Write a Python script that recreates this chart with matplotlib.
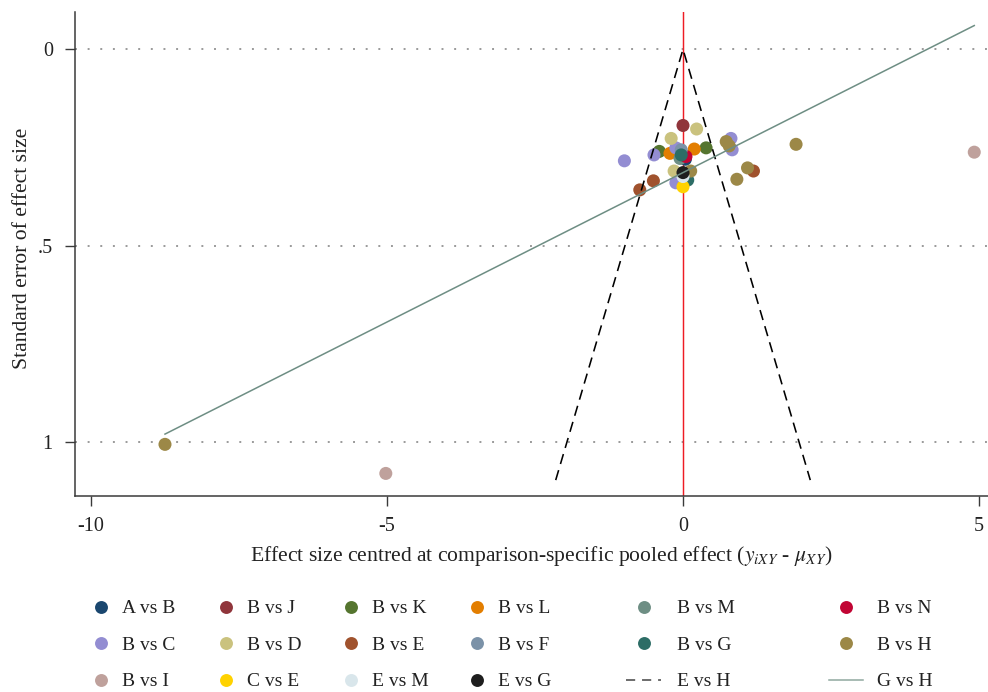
import matplotlib
matplotlib.use("Agg")
import matplotlib.pyplot as plt
from matplotlib.lines import Line2D
import numpy as np

plt.rcParams['font.family'] = ['Liberation Serif', 'DejaVu Serif']
plt.rcParams['mathtext.fontset'] = 'stix'

# ---- data ----
comparisons = ["A vs B", "B vs J", "B vs K", "B vs L", "B vs M", "B vs N",
               "B vs C", "B vs D", "B vs E", "B vs F", "B vs G", "B vs H",
               "B vs I", "C vs E", "E vs M", "E vs G"]
colors = ["#1a476f", "#90353b", "#55752f", "#e37e00", "#6e8e84", "#c10534",
          "#938dd2", "#cac27e", "#a0522d", "#7b92a8", "#2d6d66", "#9c8847",
          "#bfa19c", "#ffd200", "#d9e6eb", "#1e1e1e"]
effect = {
    "A vs B": [0.04],
    "B vs J": [0.00],
    "B vs K": [-0.40, 0.39],
    "B vs L": [-0.22, 0.19],
    "B vs M": [-0.05],
    "B vs N": [0.05],
    "B vs C": [-0.99, -0.49, -0.12, -0.12, 0.81, 0.83],
    "B vs D": [0.23, -0.20, -0.15],
    "B vs E": [1.19, -0.50, -0.73],
    "B vs F": [-0.03],
    "B vs G": [-0.03, 0.08],
    "B vs H": [0.13, 0.73, 0.78, 1.91, 1.09, 0.91, -8.75],
    "B vs I": [4.92, -5.02],
    "C vs E": [0.00],
    "E vs M": [0.00],
    "E vs G": [0.00],
}
std_err = {
    "A vs B": [0.280],
    "B vs J": [0.194],
    "B vs K": [0.260, 0.251],
    "B vs L": [0.265, 0.254],
    "B vs M": [0.278],
    "B vs N": [0.273],
    "B vs C": [0.284, 0.269, 0.251, 0.340, 0.227, 0.256],
    "B vs D": [0.203, 0.227, 0.310],
    "B vs E": [0.310, 0.335, 0.358],
    "B vs F": [0.256],
    "B vs G": [0.269, 0.333],
    "B vs H": [0.310, 0.235, 0.246, 0.242, 0.302, 0.331, 1.006],
    "B vs I": [0.262, 1.080],
    "C vs E": [0.350],
    "E vs M": [0.324],
    "E vs G": [0.314],
}
line_labels = ["E vs H", "G vs H"]          # funnel (dashed) and regression line
funnel_se_max = 1.097
funnel_z = 1.96
reg_intercept = 0.314
reg_slope = -0.0761

xticks = [-10, -5, 0, 5]
xticklabels = ["-10", "-5", "0", "5"]
yticks = [0, 0.5, 1]
yticklabels = ["0", ".5", "1"]

# ---- figure ----
W, H = 988, 692
fig = plt.figure(figsize=(W / 100, H / 100), dpi=100)
fig.patch.set_facecolor("white")

def fx(px):
    return px / W

def fy(py):
    return 1 - py / H

ax = fig.add_axes([fx(75), fy(496), fx(988) - fx(75), fy(11.7) - fy(496)])
ax.set_xlim(-10.27, 5.152)
ax.set_ylim(1.1375, -0.0957)

# gridlines
for t in yticks:
    ax.axhline(t, color="#9a9a9a", lw=1.4, linestyle=(0, (1, 5.5)), zorder=0.5)

# vertical red line at zero
ax.axvline(0, color="#ee1c24", lw=1.05, zorder=1)

# points
for name, col in zip(comparisons, colors):
    ax.scatter(effect[name], std_err[name], s=88, color=col, edgecolors="none",
               zorder=2)

# funnel (pseudo 95% CI)
se_f = np.array([funnel_se_max, 0.0, funnel_se_max])
x_f = np.array([-funnel_z, 0.0, funnel_z]) * se_f
ax.plot(x_f, se_f, color="black", lw=1.15, linestyle=(0, (6.5, 4)), zorder=3)

# regression line
all_x = np.concatenate([effect[n] for n in comparisons])
xr = np.array([all_x.min(), all_x.max()])
ax.plot(xr, reg_intercept + reg_slope * xr, color="#6e8e84", lw=1.1, zorder=3)

# axes styling
for s in ["top", "right"]:
    ax.spines[s].set_visible(False)
for s in ["left", "bottom"]:
    ax.spines[s].set_color("#3a3a3a")
    ax.spines[s].set_linewidth(1.1)
ax.set_xticks(xticks)
ax.set_xticklabels(xticklabels)
ax.set_yticks(yticks)
ax.set_yticklabels(yticklabels)
ax.tick_params(axis="both", direction="out", length=7, width=1.0,
               color="#3a3a3a", labelsize=14.5, labelcolor="#222222")
ax.tick_params(axis="x", pad=8)
ax.tick_params(axis="y", pad=9)

ax.set_xlabel(r"Effect size centred at comparison-specific pooled effect ($y_{iXY}$ - $\mu_{XY}$)",
              fontsize=15.6, color="#222222", labelpad=6, x=0.511)
ax.set_ylabel("Standard error of effect size", fontsize=15.6, color="#222222",
              labelpad=4, y=0.512)

# ---- legend (3 rows x 6 columns, row-wise) ----
col_marker_x = [100.7, 226.0, 351.3, 476.6, 644.0, 846.0]
col_text_x = [121.7, 247.0, 372.3, 497.6, 677.3, 877.3]
row_y = [606.7, 643.3, 680.0]
legend_labels = comparisons + line_labels
for i, lab in enumerate(legend_labels):
    r, c = divmod(i, 6)
    yy = row_y[r]
    if i < len(comparisons):
        fig.add_artist(Line2D([fx(col_marker_x[c])], [fy(yy)], marker="o",
                              markersize=9.3, markerfacecolor=colors[i],
                              markeredgecolor="none", linestyle="none",
                              transform=fig.transFigure))
    elif lab == line_labels[0]:
        fig.add_artist(Line2D([fx(626), fx(661)], [fy(yy), fy(yy)], color="#444444",
                              lw=1.1, linestyle=(0, (6, 4.5)),
                              transform=fig.transFigure))
    else:
        fig.add_artist(Line2D([fx(828.7), fx(863.3)], [fy(yy), fy(yy)],
                              color="#8fa89f", lw=1.1, transform=fig.transFigure))
    fig.text(fx(col_text_x[c]), fy(yy + 6.2), lab, fontsize=14,
             color="#222222", ha="left", va="baseline")

fig.savefig("out.png", dpi=100, facecolor="white")
